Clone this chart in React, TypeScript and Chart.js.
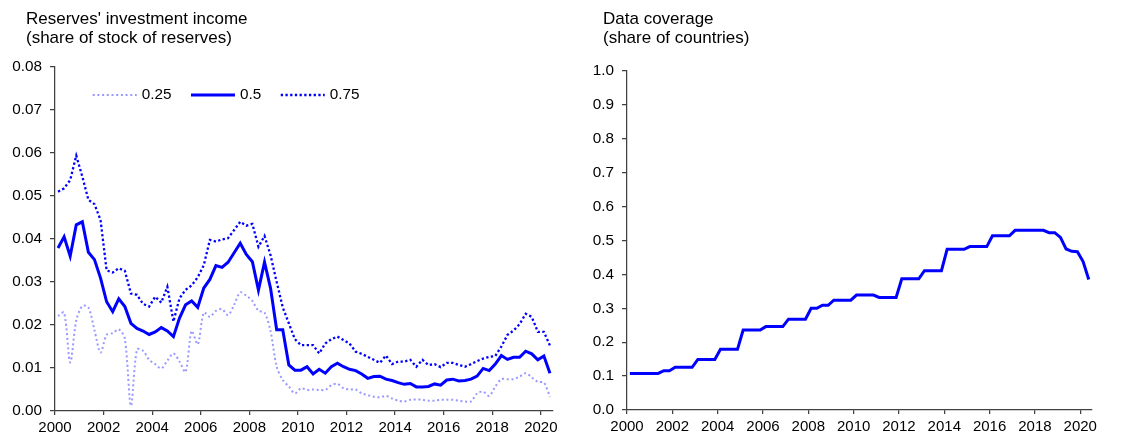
import React, { useEffect, useRef } from "react";
import Chart from "chart.js/auto";

// quarterly observations, 2000Q1 .. 2020Q2
const p25 = [
  0.0221, 0.0229, 0.0113, 0.021, 0.0244, 0.0241, 0.0188, 0.0136, 0.0177, 0.0181,
  0.019, 0.0168, 0.0012, 0.0143, 0.014, 0.0119, 0.0109, 0.0099, 0.0117, 0.0134,
  0.0115, 0.0091, 0.0186, 0.0155, 0.0229, 0.0219, 0.0233, 0.0237, 0.0223, 0.0247,
  0.0276, 0.0268, 0.0256, 0.0233, 0.0229, 0.0185, 0.0103, 0.0072, 0.0057, 0.0041,
  0.0053, 0.0049, 0.005, 0.0049, 0.0049, 0.006, 0.0063, 0.0053, 0.005, 0.005,
  0.0041, 0.0037, 0.0033, 0.0032, 0.0035, 0.0029, 0.0024, 0.0022, 0.0026, 0.0027,
  0.0026, 0.0024, 0.0024, 0.0026, 0.0026, 0.0026, 0.0024, 0.0022, 0.0022, 0.0041,
  0.0045, 0.0035, 0.0057, 0.0074, 0.0074, 0.0074, 0.008, 0.0088, 0.0078, 0.0068,
  0.0066, 0.0033,
];
const p50 = [
  0.0379, 0.0405, 0.036, 0.0433, 0.044, 0.0369, 0.0352, 0.0309, 0.0254, 0.0231,
  0.0261, 0.0243, 0.0204, 0.0192, 0.0186, 0.0178, 0.0184, 0.0194, 0.0186, 0.0173,
  0.0216, 0.0247, 0.0256, 0.0241, 0.0286, 0.0306, 0.0338, 0.0334, 0.0346, 0.0368,
  0.039, 0.0364, 0.0347, 0.0281, 0.0346, 0.0285, 0.0189, 0.0189, 0.0107, 0.0095,
  0.0095, 0.0103, 0.0086, 0.0097, 0.0088, 0.0103, 0.0111, 0.0103, 0.0097, 0.0094,
  0.0086, 0.0076, 0.008, 0.0081, 0.0074, 0.0071, 0.0066, 0.0062, 0.0064, 0.0056,
  0.0056, 0.0057, 0.0063, 0.006, 0.0072, 0.0074, 0.007, 0.0071, 0.0074, 0.0081,
  0.0099, 0.0094, 0.0109, 0.0129, 0.012, 0.0125, 0.0125, 0.0139, 0.0133, 0.0119,
  0.0128, 0.0088,
];
const p75 = [
  0.051, 0.0518, 0.0537, 0.0594, 0.0545, 0.0491, 0.0481, 0.0444, 0.0327, 0.0322,
  0.0332, 0.0326, 0.0273, 0.027, 0.0249, 0.0243, 0.0266, 0.0252, 0.0289, 0.0208,
  0.0262, 0.0282, 0.0292, 0.0311, 0.0339, 0.0398, 0.0394, 0.0399, 0.0402, 0.0421,
  0.044, 0.0431, 0.0435, 0.0382, 0.0407, 0.0362, 0.03, 0.0241, 0.0204, 0.0167,
  0.0153, 0.0153, 0.0153, 0.0134, 0.0157, 0.0167, 0.0173, 0.0165, 0.0157, 0.0138,
  0.0133, 0.0126, 0.0119, 0.0112, 0.0129, 0.0109, 0.0115, 0.0115, 0.0119, 0.0103,
  0.0119, 0.0107, 0.0109, 0.0102, 0.0112, 0.0112, 0.0107, 0.0103, 0.0109, 0.0116,
  0.0122, 0.0126, 0.0128, 0.015, 0.0177, 0.0187, 0.0202, 0.0226, 0.0219, 0.0184,
  0.0184, 0.0152,
];
const coverage = [
  0.108, 0.108, 0.108, 0.108, 0.108, 0.108, 0.116, 0.116, 0.126, 0.126,
  0.126, 0.126, 0.149, 0.149, 0.149, 0.149, 0.179, 0.179, 0.179, 0.179,
  0.236, 0.236, 0.236, 0.236, 0.246, 0.246, 0.246, 0.246, 0.268, 0.268,
  0.268, 0.268, 0.3, 0.3, 0.309, 0.309, 0.324, 0.324, 0.324, 0.324,
  0.339, 0.339, 0.339, 0.339, 0.332, 0.332, 0.332, 0.332, 0.387, 0.387,
  0.387, 0.387, 0.411, 0.411, 0.411, 0.411, 0.474, 0.474, 0.474, 0.474,
  0.482, 0.482, 0.482, 0.482, 0.514, 0.514, 0.514, 0.514, 0.53, 0.53,
  0.53, 0.53, 0.53, 0.53, 0.523, 0.523, 0.509, 0.475, 0.468, 0.467,
  0.438, 0.385,
];
const seriesLabels = ["0.25", "0.5", "0.75"];
const yearTicks = [2000, 2002, 2004, 2006, 2008, 2010, 2012, 2014, 2016, 2018, 2020];
const incomeTicks = [0, 0.01, 0.02, 0.03, 0.04, 0.05, 0.06, 0.07, 0.08];
const coverageTicks = [0, 0.1, 0.2, 0.3, 0.4, 0.5, 0.6, 0.7, 0.8, 0.9, 1.0];

const FONT = "'Liberation Sans', Arial, sans-serif";
const AXIS = "#404040";
const BLUE = "#0000ff";
const LIGHT = "#9999ff";

// each quarter sits in the middle of its span on the year axis
const toPoints = (vals: number[]) => vals.map((v, i) => ({ x: 2000 + (i + 0.5) / 4, y: v }));

// legend drawn inside the plot area, line samples taken from the datasets
const insideLegend = {
  id: "insideLegend",
  afterDatasetsDraw(chart: any, _args: any, opts: any) {
    if (!opts || !opts.display) return;
    const { ctx, chartArea } = chart;
    let x = chartArea.left + opts.offsetX;
    const y = chartArea.top + opts.offsetY;
    ctx.save();
    ctx.font = `15.3px ${FONT}`;
    ctx.textBaseline = "middle";
    ctx.fillStyle = "#000";
    chart.data.datasets.forEach((ds: any) => {
      ctx.beginPath();
      ctx.strokeStyle = ds.borderColor;
      ctx.lineWidth = ds.borderWidth;
      ctx.setLineDash(ds.borderDash || []);
      ctx.moveTo(x, y);
      ctx.lineTo(x + opts.sample, y);
      ctx.stroke();
      ctx.setLineDash([]);
      x += opts.sample + opts.gap;
      ctx.fillText(ds.label, x, y);
      x += ctx.measureText(ds.label).width + opts.spacing;
    });
    ctx.restore();
  },
};

const xScale = (height: number) => ({
  type: "linear" as const,
  min: 2000,
  max: 2020.5,
  afterBuildTicks: (s: any) => {
    s.ticks = yearTicks.map((v) => ({ value: v }));
  },
  afterFit: (s: any) => {
    s.height = height;
  },
  grid: { drawOnChartArea: false, color: AXIS, tickLength: 4, lineWidth: 1.25 },
  border: { color: AXIS, width: 1.25 },
  ticks: {
    font: { family: FONT, size: 15 },
    color: "#000",
    padding: 4,
    maxRotation: 0,
    autoSkip: false,
    callback: (v: any) => String(v),
  },
});

const yScale = (width: number, max: number, ticks: number[], digits: number) => ({
  min: 0,
  max,
  afterBuildTicks: (s: any) => {
    s.ticks = ticks.map((v) => ({ value: v }));
  },
  afterFit: (s: any) => {
    s.width = width;
  },
  grid: { drawOnChartArea: false, color: AXIS, tickLength: 5, lineWidth: 1.25 },
  border: { color: AXIS, width: 1.25 },
  ticks: {
    font: { family: FONT, size: 15.3 },
    color: "#000",
    padding: 8,
    callback: (v: any) => Number(v).toFixed(digits),
  },
});

const titleStyle: React.CSSProperties = {
  position: "absolute",
  top: 8.6,
  fontFamily: FONT,
  fontSize: 17,
  lineHeight: "19px",
  color: "#000",
  whiteSpace: "nowrap",
};

const App: React.FC = () => {
  const leftRef = useRef<HTMLCanvasElement>(null);
  const rightRef = useRef<HTMLCanvasElement>(null);

  useEffect(() => {
    const lctx = leftRef.current?.getContext("2d");
    const rctx = rightRef.current?.getContext("2d");
    if (!lctx || !rctx) return;

    const income = new Chart(lctx, {
      type: "line",
      data: {
        datasets: [
          {
            label: seriesLabels[0],
            data: toPoints(p25),
            borderColor: LIGHT,
            borderWidth: 2,
            borderDash: [2, 2.7],
            tension: 0.3,
            pointRadius: 0,
            order: 2,
          },
          {
            label: seriesLabels[1],
            data: toPoints(p50),
            borderColor: BLUE,
            borderWidth: 3,
            pointRadius: 0,
            order: 0,
          },
          {
            label: seriesLabels[2],
            data: toPoints(p75),
            borderColor: BLUE,
            borderWidth: 2.3,
            borderDash: [2.3, 2.4],
            pointRadius: 0,
            order: 1,
          },
        ],
      },
      options: {
        animation: false,
        responsive: true,
        maintainAspectRatio: false,
        layout: { padding: { top: 67, right: 12, left: 0, bottom: 0 } },
        plugins: {
          legend: { display: false },
          tooltip: { enabled: false },
          insideLegend: { display: true, offsetX: 37.7, offsetY: 28, sample: 44, gap: 5, spacing: 19.5 },
        } as any,
        scales: {
          x: xScale(28),
          y: yScale(55, 0.08, incomeTicks, 2),
        } as any,
      },
      plugins: [insideLegend],
    });

    const cover = new Chart(rctx, {
      type: "line",
      data: {
        datasets: [
          {
            label: "Data coverage",
            data: toPoints(coverage),
            borderColor: BLUE,
            borderWidth: 3,
            pointRadius: 0,
          },
        ],
      },
      options: {
        animation: false,
        responsive: true,
        maintainAspectRatio: false,
        layout: { padding: { top: 71, right: 38.4, left: 0, bottom: 0 } },
        plugins: {
          legend: { display: false },
          tooltip: { enabled: false },
        },
        scales: {
          x: xScale(29),
          y: yScale(62, 1, coverageTicks, 1),
        } as any,
      },
    });

    return () => {
      income.destroy();
      cover.destroy();
    };
  }, []);

  return (
    <div style={{ position: "absolute", left: 0, top: 0, width: 1130, height: 439, background: "#fff" }}>
      <div style={{ position: "absolute", left: 0, top: 0, width: 565, height: 439 }}>
        <canvas ref={leftRef} />
      </div>
      <div style={{ position: "absolute", left: 565, top: 0, width: 565, height: 439 }}>
        <canvas ref={rightRef} />
      </div>
      <div style={{ ...titleStyle, left: 26 }}>
        Reserves' investment income
        <br />
        (share of stock of reserves)
      </div>
      <div style={{ ...titleStyle, left: 603 }}>
        Data coverage
        <br />
        (share of countries)
      </div>
    </div>
  );
};

export default App;
